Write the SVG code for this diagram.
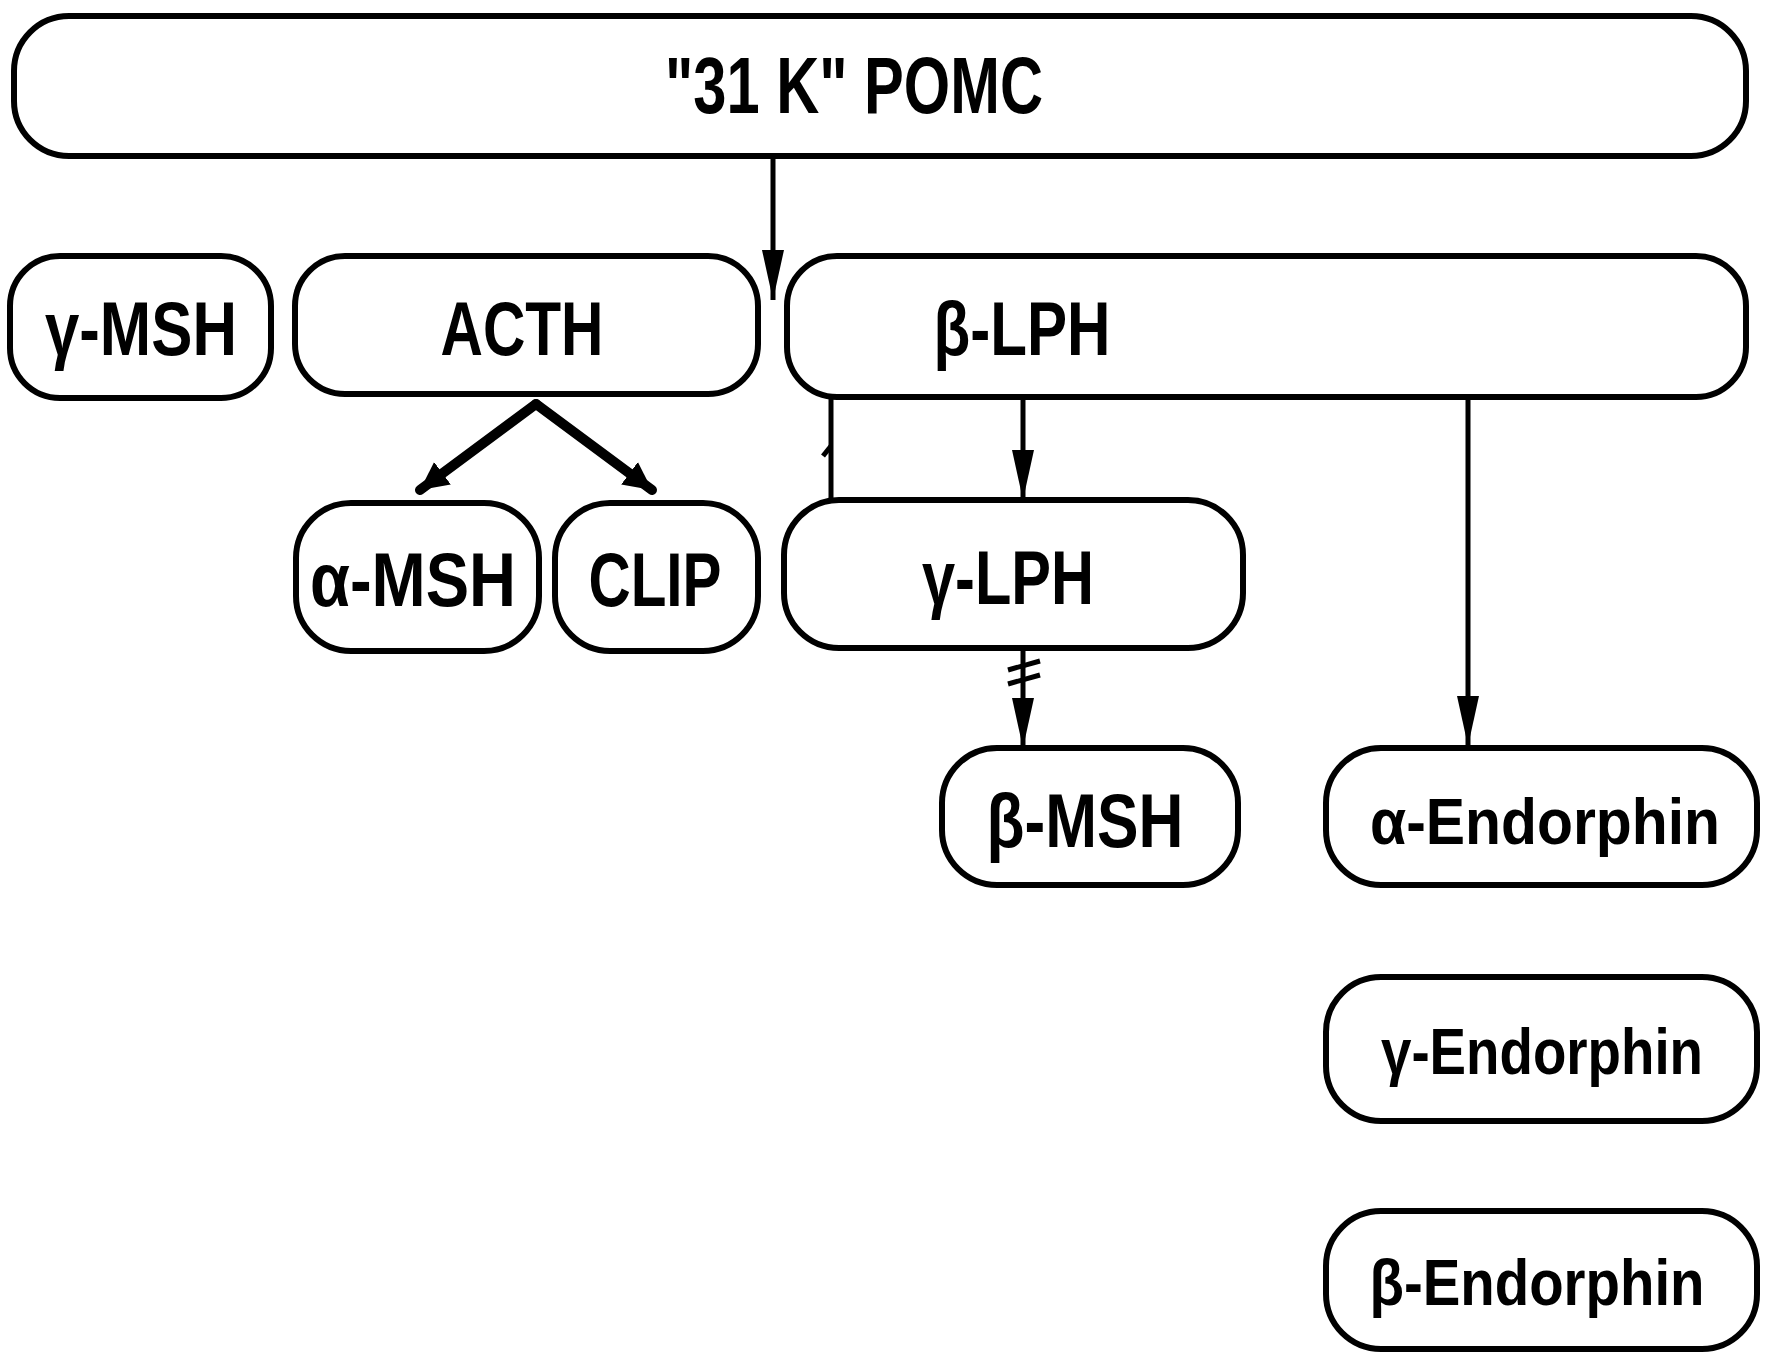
<svg xmlns="http://www.w3.org/2000/svg" width="1768" height="1354" viewBox="0 0 1768 1354">
<style>
.box{fill:#fff;stroke:#000;stroke-width:6}
.lbl{font-family:"Liberation Sans",Arial,sans-serif;font-weight:bold;fill:#000;text-anchor:middle}
.big{font-size:80px}
.mid{font-size:76px}
.end{font-size:64px}
.con{stroke:#000;stroke-width:5;fill:none}
.thick{stroke:#000;stroke-width:10;fill:none;stroke-linecap:round}
</style>
<defs>
<marker id="ah" markerUnits="userSpaceOnUse" markerWidth="52" markerHeight="24" refX="50" refY="12" orient="auto">
<path d="M0,1 L50,12 L0,23 Z" fill="#000"/>
</marker>
<marker id="ahs" markerUnits="userSpaceOnUse" markerWidth="30" markerHeight="32" refX="28" refY="16" orient="auto">
<path d="M0,2 L28,16 L0,30 Z" fill="#000"/>
</marker>
</defs>
<rect width="1768" height="1354" fill="#fff"/>
<g id="connectors">
<line class="con" x1="773" y1="156" x2="773" y2="300" marker-end="url(#ah)"/>
<line class="thick" x1="536" y1="404" x2="420" y2="490" marker-end="url(#ahs)"/>
<line class="thick" x1="536" y1="404" x2="652" y2="490" marker-end="url(#ahs)"/>
<line class="con" x1="831" y1="397" x2="831" y2="500"/>
<path class="con" d="M831,446 L823,456"/>
<line class="con" x1="1023" y1="397" x2="1023" y2="500" marker-end="url(#ah)"/>
<line class="con" x1="1023" y1="648" x2="1023" y2="748" marker-end="url(#ah)"/>
<path class="con" d="M1008,670 L1040,661 M1008,684 L1040,675"/>
<line class="con" x1="1468" y1="397" x2="1468" y2="746" marker-end="url(#ah)"/>
</g>
<g id="pomc">
<rect class="box" x="14" y="16" width="1732" height="140" rx="55" ry="55"/>
<text class="lbl big" x="854" y="113" textLength="378" lengthAdjust="spacingAndGlyphs">"31 K" POMC</text>
</g>
<g id="gamma-msh">
<rect class="box" x="10" y="256" width="261" height="142" rx="50" ry="50"/>
<text class="lbl mid" x="141" y="355" textLength="192" lengthAdjust="spacingAndGlyphs">γ-MSH</text>
</g>
<g id="acth">
<rect class="box" x="295" y="256" width="463" height="138" rx="50" ry="50"/>
<text class="lbl mid" x="522" y="355" textLength="163" lengthAdjust="spacingAndGlyphs">ACTH</text>
</g>
<g id="beta-lph">
<rect class="box" x="787" y="256" width="959" height="141" rx="50" ry="50"/>
<text class="lbl mid" x="1022" y="355" textLength="177" lengthAdjust="spacingAndGlyphs">β-LPH</text>
</g>
<g id="alpha-msh">
<rect class="box" x="296" y="503" width="243" height="148" rx="55" ry="55"/>
<text class="lbl mid" x="413" y="606" textLength="206" lengthAdjust="spacingAndGlyphs">α-MSH</text>
</g>
<g id="clip">
<rect class="box" x="555" y="503" width="203" height="148" rx="55" ry="55"/>
<text class="lbl mid" x="655" y="606" textLength="133" lengthAdjust="spacingAndGlyphs">CLIP</text>
</g>
<g id="gamma-lph">
<rect class="box" x="784" y="500" width="459" height="148" rx="55" ry="55"/>
<text class="lbl mid" x="1008" y="604" textLength="172" lengthAdjust="spacingAndGlyphs">γ-LPH</text>
</g>
<g id="beta-msh">
<rect class="box" x="942" y="748" width="296" height="137" rx="55" ry="55"/>
<text class="lbl mid" x="1085" y="847" textLength="197" lengthAdjust="spacingAndGlyphs">β-MSH</text>
</g>
<g id="alpha-endorphin">
<rect class="box" x="1326" y="748" width="431" height="137" rx="55" ry="55"/>
<text class="lbl end" x="1545" y="844" textLength="350" lengthAdjust="spacingAndGlyphs">α-Endorphin</text>
</g>
<g id="gamma-endorphin">
<rect class="box" x="1326" y="977" width="431" height="144" rx="55" ry="55"/>
<text class="lbl end" x="1542" y="1074" textLength="322" lengthAdjust="spacingAndGlyphs">γ-Endorphin</text>
</g>
<g id="beta-endorphin">
<rect class="box" x="1326" y="1211" width="431" height="138" rx="55" ry="55"/>
<text class="lbl end" x="1537" y="1305" textLength="335" lengthAdjust="spacingAndGlyphs">β-Endorphin</text>
</g>
</svg>
